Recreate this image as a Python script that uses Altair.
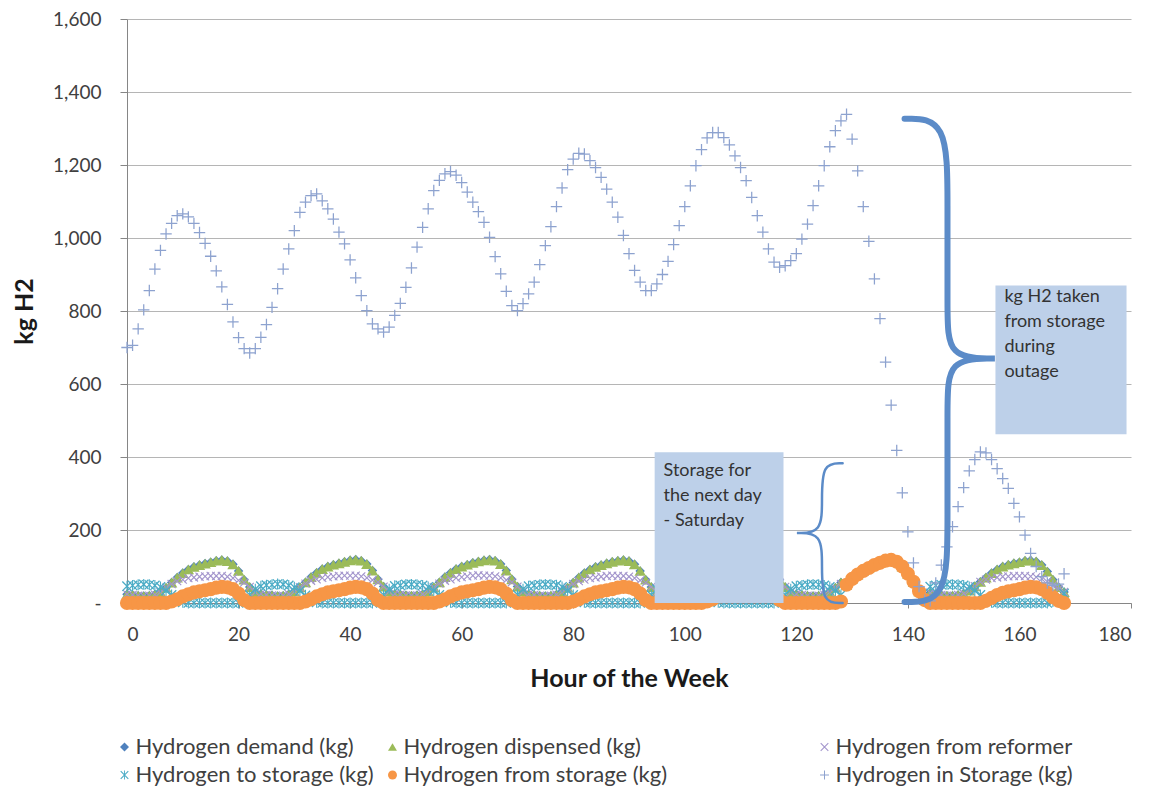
import altair as alt
import pandas as pd

hours = list(range(169))

in_storage = [
    700, 706, 751, 803, 856, 915, 966, 1011, 1040, 1061, 1066, 1058,
    1040, 1015, 985, 950, 910, 866, 818, 770, 727, 697, 685, 697,
    728, 763, 810, 861, 915, 970, 1020, 1070, 1098, 1116, 1121, 1102,
    1080, 1052, 1016, 984, 940, 891, 842, 801, 765, 751, 742, 756,
    788, 821, 865, 918, 975, 1029, 1080, 1130, 1158, 1176, 1182, 1172,
    1152, 1126, 1098, 1072, 1043, 1002, 949, 902, 854, 815, 801, 820,
    847, 879, 927, 979, 1031, 1086, 1137, 1187, 1216, 1232, 1230, 1212,
    1193, 1166, 1134, 1098, 1057, 1007, 957, 911, 879, 856, 856, 874,
    900, 936, 982, 1034, 1086, 1143, 1198, 1242, 1274, 1289, 1289, 1275,
    1255, 1225, 1193, 1157, 1111, 1061, 1016, 970, 934, 920, 924, 938,
    957, 997, 1038, 1089, 1143, 1198, 1250, 1294, 1321, 1339, 1271, 1184,
    1086, 991, 888, 779, 660, 542, 418, 302, 195, 110, 45, 8,
    6, 55, 104, 154, 209, 264, 316, 362, 393, 414, 411, 393,
    368, 341, 314, 273, 236, 186, 136, 100, 72, 55, 48, 52,
    80,
]

demand = [
    24, 22, 20, 19, 20, 23, 30, 42, 56, 70, 82, 92, 99, 104, 108, 112, 116, 118, 115, 106, 88, 64, 44, 30,
    25, 22, 21, 19, 20, 24, 31, 43, 57, 71, 83, 93, 100, 105, 109, 113, 117, 119, 116, 107, 89, 65, 45, 31,
    25, 23, 21, 20, 21, 24, 31, 43, 57, 71, 83, 93, 100, 105, 110, 114, 117, 119, 116, 107, 89, 65, 45, 31,
    24, 22, 20, 19, 20, 23, 30, 42, 56, 70, 82, 92, 99, 104, 109, 113, 116, 118, 115, 106, 88, 64, 44, 30,
    24, 22, 20, 19, 20, 23, 30, 42, 56, 70, 82, 92, 99, 104, 108, 112, 116, 118, 115, 106, 88, 64, 44, 30,
    24, 22, 20, 19, 20, 23, 30, 42, 56, 50, 66, 78, 88, 96, 104, 110, 116, 118, 113, 100, 80, 58, 32, 8,
    28, 24, 22, 20, 20, 22, 26, 34, 46, 58, 70, 82, 92, 100, 105, 109, 112, 116, 117, 114, 104, 86, 64, 44, 30,
]

dispensed = [
    24, 22, 20, 19, 20, 23, 30, 42, 56, 70, 82, 92, 99, 104, 108, 112, 116, 118, 115, 106, 88, 64, 44, 30,
    25, 22, 21, 19, 20, 24, 31, 43, 57, 71, 83, 93, 100, 105, 109, 113, 117, 119, 116, 107, 89, 65, 45, 31,
    25, 23, 21, 20, 21, 24, 31, 43, 57, 71, 83, 93, 100, 105, 110, 114, 117, 119, 116, 107, 89, 65, 45, 31,
    24, 22, 20, 19, 20, 23, 30, 42, 56, 70, 82, 92, 99, 104, 109, 113, 116, 118, 115, 106, 88, 64, 44, 30,
    24, 22, 20, 19, 20, 23, 30, 42, 56, 70, 82, 92, 99, 104, 108, 112, 116, 118, 115, 106, 88, 64, 44, 30,
    24, 22, 20, 19, 20, 23, 30, 42, 56, 50, 66, 78, 88, 96, 104, 110, 116, 118, 113, 100, 80, 58, 32, 8,
    28, 24, 22, 20, 20, 22, 26, 34, 46, 58, 70, 82, 92, 100, 105, 109, 112, 116, 117, 114, 104, 86, 64, 44, 30,
]

from_reformer = [
    24, 22, 20, 19, 20, 23, 30, 42, 52, 60, 64, 68, 70, 72, 73, 74, 74, 74, 72, 68, 62, 56, 44, 30,
    25, 22, 21, 19, 20, 24, 31, 43, 53, 61, 65, 69, 71, 73, 74, 75, 75, 75, 73, 69, 63, 57, 45, 31,
    25, 23, 21, 20, 21, 24, 31, 43, 53, 61, 65, 69, 71, 73, 75, 76, 75, 75, 73, 69, 63, 57, 45, 31,
    24, 22, 20, 19, 20, 23, 30, 42, 52, 60, 64, 68, 70, 72, 74, 75, 74, 74, 72, 68, 62, 56, 44, 30,
    24, 22, 20, 19, 20, 23, 30, 42, 52, 60, 64, 68, 70, 72, 73, 74, 74, 74, 72, 68, 62, 56, 44, 30,
    24, 22, 20, 19, 20, 23, 30, 42, 52, None, None, None, None, None, None, None, None, None, None, None, None, None, None, None,
    28, 24, 22, 20, 20, 22, 26, 34, 46, 58, 64, 68, 70, 72, 73, 74, 74, 74, 73, 71, 66, 58, 48, 38, 30,
]

to_storage = [
    46, 48, 50, 51, 50, 48, 44, 34, 22, 12, 2, 0, 0, 0, 0, 0, 0, 0, 0, 0, 0, 6, 22, 38,
    46, 49, 50, 52, 51, 48, 43, 33, 21, 11, 2, 0, 0, 0, 0, 0, 0, 0, 0, 0, 0, 6, 22, 38,
    47, 48, 51, 51, 50, 48, 44, 34, 22, 12, 2, 0, 0, 0, 0, 0, 0, 0, 0, 0, 0, 7, 23, 38,
    46, 48, 50, 51, 50, 49, 44, 34, 22, 12, 2, 0, 0, 0, 0, 0, 0, 0, 0, 0, 0, 6, 22, 38,
    46, 48, 50, 51, 50, 48, 44, 34, 22, 12, 2, 0, 0, 0, 0, 0, 0, 0, 0, 0, 0, 6, 22, 38,
    46, 48, 50, 51, 50, 48, 44, 34, 22, None, None, None, None, None, None, None, None, None, None, None, None, None, None, None,
    45, 48, 50, 51, 50, 50, 48, 44, 34, 22, 10, 2, 0, 0, 0, 0, 0, 0, 0, 0, 0, 0, 4, 12, 26,
]

from_storage = [
    0, 0, 0, 0, 0, 0, 0, 0, 4, 10, 18, 24, 29, 32, 35, 38, 42, 44, 43, 38, 26, 8, 0, 0,
    0, 0, 0, 0, 0, 0, 0, 0, 4, 10, 18, 24, 29, 32, 35, 38, 42, 44, 43, 38, 26, 8, 0, 0,
    0, 0, 0, 0, 0, 0, 0, 0, 4, 10, 18, 24, 29, 32, 35, 38, 42, 44, 43, 38, 26, 8, 0, 0,
    0, 0, 0, 0, 0, 0, 0, 0, 4, 10, 18, 24, 29, 32, 35, 38, 42, 44, 43, 38, 26, 8, 0, 0,
    0, 0, 0, 0, 0, 0, 0, 0, 4, 10, 18, 24, 29, 32, 35, 38, 42, 44, 43, 38, 26, 8, 0, 0,
    0, 0, 0, 0, 0, 0, 0, 0, 4, 50, 66, 78, 88, 96, 104, 110, 116, 118, 113, 100, 80, 58, 32, 8,
    0, 0, 0, 0, 0, 0, 0, 0, 0, 0, 6, 14, 22, 28, 32, 35, 38, 42, 44, 43, 38, 28, 16, 6, 0,
]

S_DEM = "Hydrogen demand (kg)"
S_DIS = "Hydrogen dispensed (kg)"
S_REF = "Hydrogen from reformer"
S_TO = "Hydrogen to storage (kg)"
S_FROM = "Hydrogen from storage (kg)"
S_IN = "Hydrogen in Storage (kg)"

# annotation geometry (in data units: hour, kg)
box_x1 = [155.7, 94.6]
box_x2 = [179.2, 117.7]
box_y1 = [462, 0]
box_y2 = [870, 413]
box_text = ["kg H2 taken\nfrom storage\nduring\noutage", "Storage for\nthe next day\n- Saturday"]
box_text_x = [157.3, 96.2]
box_text_y = [862, 386]

big_brace_h = [139.4, 147.1, 147.1, 147.1, 147.1, 155.6, 155.6, 155.6, 147.1, 147.1, 147.1, 147.1, 139.4]
big_brace_kg = [1327, 1327, 1100, 801, 670, 670, 670, 670, 670, 539, 227, 3, 3]
small_brace_h = [128.3, 124.6, 124.6, 124.6, 120.1, 120.1, 120.1, 124.6, 124.6, 124.6, 128.3]
small_brace_kg = [383, 383, 282, 192, 192, 192, 192, 192, 101, 0, 0]

FONT = "Lato"

PLUS = "M-1,-0.11L-0.11,-0.11L-0.11,-1L0.11,-1L0.11,-0.11L1,-0.11L1,0.11L0.11,0.11L0.11,1L-0.11,1L-0.11,0.11L-1,0.11Z"
XMARK = ("M-0.935,-0.765L0.765,0.935L0.935,0.765L-0.765,-0.935Z"
         "M-0.765,0.935L0.935,-0.765L0.765,-0.935L-0.935,0.765Z")
ASTER = ("M-0.935,-0.765L0.765,0.935L0.935,0.765L-0.765,-0.935Z"
         "M-0.765,0.935L0.935,-0.765L0.765,-0.935L-0.935,0.765Z"
         "M-0.1,-1L-0.1,1L0.1,1L0.1,-1Z")

dom_a = [S_DEM, S_DIS, S_TO, S_FROM]
col_a = ["#4F81BD", "#9BBB59", "#4BACC6", "#F79646"]
shp_a = ["diamond", "triangle-up", ASTER, "circle"]
dom_b = [S_REF, S_IN]
col_b = ["#A395CC", "#8DA2CF"]
shp_b = [XMARK, PLUS]


def long(name, vals):
    return pd.DataFrame([{"hour": h, "kg": v, "series": name}
                         for h, v in zip(hours, vals) if v is not None])


x_enc = alt.X("hour:Q", scale=alt.Scale(domain=[0, 180], nice=False, zero=False),
              axis=alt.Axis(values=list(range(0, 181, 20)), title="Hour of the Week",
                            grid=False, tickSize=5, labelPadding=17, titlePadding=22,
                            labelFontSize=19, titleFontSize=25, titleFontWeight="bold",
                            domainColor="#868686", tickColor="#868686",
                            labelColor="#404040", titleColor="#1a1a1a"))
y_enc = alt.Y("kg:Q", scale=alt.Scale(domain=[0, 1600], nice=False),
              axis=alt.Axis(values=list(range(0, 1601, 200)), title="kg H2",
                            labelExpr="datum.value == 0 ? '-' : format(datum.value, ',')",
                            grid=True, gridColor="#B5B5B5", tickSize=7, labelPadding=19,
                            titlePadding=15, labelFontSize=19, titleFontSize=25,
                            titleFontWeight="bold", domainColor="#868686", tickColor="#868686",
                            labelColor="#404040", titleColor="#1a1a1a"))


def legend_for(cols, lx, cpad):
    return alt.Legend(orient="none", legendX=lx, legendY=717, title=None, columns=cols,
                      direction="horizontal", labelLimit=600,
                      labelFont=FONT, labelFontSize=22, labelColor="#404040",
                      symbolSize=80, labelOffset=0, columnPadding=cpad, rowPadding=6,
                      padding=0, symbolStrokeWidth=0)


def series_layer(name, vals, dom, cols, shps, size, legend):
    enc = dict(x=x_enc, y=y_enc)
    if legend is not None:
        enc["color"] = alt.Color("series:N", scale=alt.Scale(domain=dom, range=cols), legend=legend)
        enc["shape"] = alt.Shape("series:N", scale=alt.Scale(domain=dom, range=shps), legend=legend)
    else:
        enc["color"] = alt.Color("series:N", scale=alt.Scale(domain=dom, range=cols), legend=None)
        enc["shape"] = alt.Shape("series:N", scale=alt.Scale(domain=dom, range=shps), legend=None)
    return alt.Chart(long(name, vals)).mark_point(filled=True, opacity=1, size=size).encode(**enc)


l_dem = series_layer(S_DEM, demand, dom_a, col_a, shp_a, 90, legend_for(2, -13.5, 7))
l_dis = series_layer(S_DIS, dispensed, dom_a, col_a, shp_a, 130, None)
l_ref = series_layer(S_REF, from_reformer, dom_b, col_b, shp_b, 90, legend_for(1, 686.5, 7))
l_to = series_layer(S_TO, to_storage, dom_a, col_a, shp_a, 120, None)
l_from = series_layer(S_FROM, from_storage, dom_a, col_a, shp_a, 200, None)
l_in = series_layer(S_IN, in_storage, dom_b, col_b, shp_b, 130, None)

boxes = pd.DataFrame({"x1": box_x1, "x2": box_x2, "y1": box_y1, "y2": box_y2})
l_box = alt.Chart(boxes).mark_rect(color="#BDD0E9").encode(
    x=alt.X("x1:Q"), x2="x2:Q", y=alt.Y("y1:Q"), y2="y2:Q")

texts = pd.DataFrame({"hour": box_text_x, "kg": box_text_y, "t": box_text})
l_text = alt.Chart(texts).mark_text(align="left", baseline="top", lineBreak="\n",
                                    lineHeight=25, font=FONT, fontSize=18,
                                    color="#333333").encode(
    x=alt.X("hour:Q"), y=alt.Y("kg:Q"), text="t:N")

big = pd.DataFrame({"hour": big_brace_h, "kg": big_brace_kg, "i": list(range(len(big_brace_h)))})
small = pd.DataFrame({"hour": small_brace_h, "kg": small_brace_kg, "i": list(range(len(small_brace_h)))})
l_big = alt.Chart(big).mark_line(color="#5B8BC8", strokeWidth=6, interpolate="basis",
                                 strokeCap="round").encode(
    x=alt.X("hour:Q"), y=alt.Y("kg:Q"), order="i:Q")
l_small = alt.Chart(small).mark_line(color="#5B8BC8", strokeWidth=2.5, interpolate="basis",
                                     strokeCap="round").encode(
    x=alt.X("hour:Q"), y=alt.Y("kg:Q"), order="i:Q")

chart = alt.layer(l_dem, l_dis, l_ref, l_to, l_from, l_in, l_box, l_text, l_big, l_small).resolve_scale(
    color="independent", shape="independent"
).properties(
    width=1004, height=584,
    autosize=alt.AutoSizeParams(type="none"),
    padding={"left": 119, "top": 11, "right": 18, "bottom": 186},
    background="white",
).configure_axis(
    labelFont=FONT, titleFont=FONT
).configure_view(strokeWidth=0)

chart.save("out.html", embed_options={"renderer": "svg", "actions": False})
